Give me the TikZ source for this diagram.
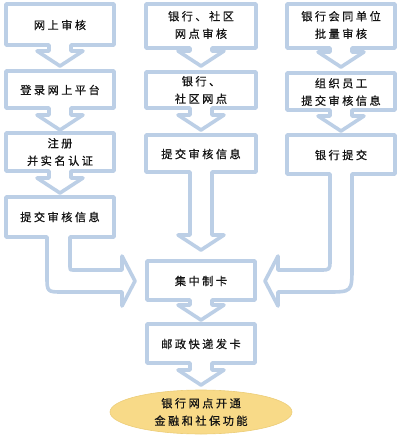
\documentclass[tikz,border=0pt]{standalone}
\usepackage{fontspec}
\newfontfamily\cjk[LetterSpace=22,FakeBold=0.6]{Noto Sans CJK SC}
\definecolor{boxblue}{RGB}{188,207,230}
\definecolor{txt}{RGB}{20,20,20}
\definecolor{ellfill}{RGB}{248,218,136}
\definecolor{ellline}{RGB}{236,205,120}
\tikzset{
  boxline/.style={draw=boxblue, line width=3.6pt, line join=round, fill=white},
  lbl/.style={font=\cjk\fontsize{11.2}{17.5}\selectfont, text=txt, align=center, inner sep=0pt},
}
% x0, x1, top, bottom, tip
\newcommand\calloutbox[5]{%
  \pgfmathsetmacro\cxx{(#1+#2)/2}%
  \pgfmathsetmacro\hb{#5-15}%
  \draw[boxline] (#1,#3) -- (#2,#3) -- (#2,#4) -- (\cxx+11,#4) -- (\cxx+11,\hb)
    -- (\cxx+23,\hb) -- (\cxx,#5) -- (\cxx-23,\hb) -- (\cxx-11,\hb) -- (\cxx-11,#4)
    -- (#1,#4) -- cycle;}
\begin{document}
\begin{tikzpicture}[x=1pt,y=-1pt]
\useasboundingbox (0,0) rectangle (400,440);
% left column
\calloutbox{6}{114}{4}{45}{66}
\calloutbox{6}{114}{71}{108}{130}
\calloutbox{6}{114}{133}{171}{193}
\draw[boxline] (6,197) -- (114,197) -- (114,237) -- (70,237) -- (70,267)
  .. controls (70,270) .. (73,270) -- (122,270) -- (122,256) -- (135,281)
  -- (122,306) -- (122,292) -- (63,292) .. controls (47,292) .. (47,276)
  -- (47,237) -- (6,237) -- cycle;
% middle column
\calloutbox{146}{256}{4}{48}{66}
\calloutbox{146}{256}{72}{108}{130}
\calloutbox{146}{256}{135}{172}{250}
% right column
\calloutbox{287}{395}{4}{48}{67}
\calloutbox{287}{395}{73}{110}{131}
\draw[boxline] (287,135) -- (395,135) -- (395,174) -- (352,174) -- (352,267)
  .. controls (352,292) .. (327,292) -- (278,292) -- (278,306) -- (265,281)
  -- (278,256) -- (278,270) -- (320,270) .. controls (330,270) .. (330,260)
  -- (330,174) -- (287,174) -- cycle;
% center
\calloutbox{147}{255}{261}{300}{320}
\calloutbox{147}{255}{324}{363}{385}
\draw[draw=ellline, line width=0.6pt, fill=ellfill] (201,412) ellipse [x radius=91, y radius=22];
% labels
\node[lbl] (l1) at (60,25) {网上审核};
\node[lbl] (l2) at (60,90) {登录网上平台};
\node[lbl] (l3) at (60,152) {注册\\并实名认证};
\node[lbl] (l4) at (60,217) {提交审核信息};
\node[lbl] (m1) at (201,25) {银行、社区\\网点审核};
\node[lbl] (m2) at (201,90) {银行、\\社区网点};
\node[lbl] (m3) at (201,154) {提交审核信息};
\node[lbl] (r1) at (341,25) {银行会同单位\\批量审核};
\node[lbl] (r2) at (341,92) {组织员工\\提交审核信息};
\node[lbl] (r3) at (341,155) {银行提交};
\node[lbl] (c1) at (201,281) {集中制卡};
\node[lbl] (c2) at (201,344) {邮政快递发卡};
\node[lbl] (e) at (201,412) {银行网点开通\\金融和社保功能};
\end{tikzpicture}
\end{document}
